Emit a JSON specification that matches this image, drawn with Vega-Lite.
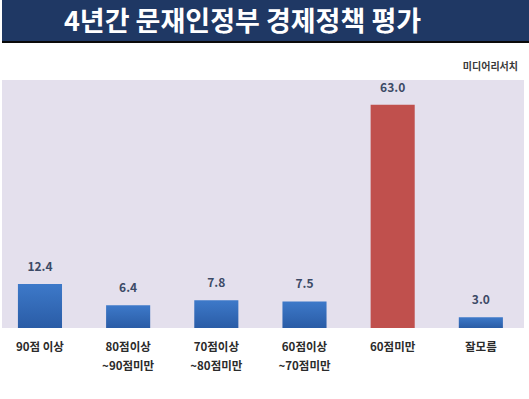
{
  "$schema": "https://vega.github.io/schema/vega-lite/v6.json",
  "background": "white",
  "padding": {"left": 2, "top": 0, "right": 0, "bottom": 0},
  "spacing": 0,
  "config": {"view": {"stroke": null}, "font": "Noto Sans CJK KR"},
  "vconcat": [
    {
      "width": 527,
      "height": 41,
      "view": {"fill": "#1f3864", "stroke": null},
      "data": {"values": [{"t": "4년간 문재인정부 경제정책 평가"}]},
      "mark": {"type": "text", "color": "white", "fontSize": 27, "fontWeight": "bold", "font": "Noto Sans CJK KR", "dx": -23, "baseline": "middle", "dy": 2},
      "encoding": {"text": {"field": "t"}}
    },
    {
      "width": 527,
      "height": 2,
      "view": {"fill": "#0a0a0a", "stroke": null},
      "data": {"values": []},
      "mark": "point",
      "encoding": {}
    },
    {
      "width": 527,
      "height": 19,
      "data": {"values": []},
      "mark": "point",
      "encoding": {}
    },
    {
      "width": 522,
      "height": 248,
      "view": {"fill": "#e4e0ed", "stroke": null},
      "title": {"text": "미디어리서치", "anchor": "end", "offset": 8, "fontSize": 10, "fontWeight": "bold", "color": "#3a3a3a", "dx": -6},
      "data": {"values": [
        {"label": "90점 이상", "value": 12.4, "group": "other"},
        {"label": "80점이상\n~90점미만", "value": 6.4, "group": "other"},
        {"label": "70점이상\n~80점미만", "value": 7.8, "group": "other"},
        {"label": "60점이상\n~70점미만", "value": 7.5, "group": "other"},
        {"label": "60점미만", "value": 63.0, "group": "main"},
        {"label": "잘모름", "value": 3.0, "group": "other"}
      ]},
      "encoding": {
        "x": {"field": "label", "type": "nominal",
              "sort": ["90점 이상", "80점이상\n~90점미만", "70점이상\n~80점미만", "60점이상\n~70점미만", "60점미만", "잘모름"],
              "scale": {"paddingInner": 0.5, "paddingOuter": 0.21, "align": 0.43},
              "axis": {"title": null, "labelAngle": 0, "domain": false, "ticks": false, "labelPadding": 13,
                       "labelFontSize": 11.5, "labelFontWeight": "bold", "labelColor": "#2b2b2b", "labelLineHeight": 19,
                       "labelExpr": "split(datum.value, '\\n')", "labelBaseline": "top"}},
        "y": {"field": "value", "type": "quantitative", "scale": {"domain": [0, 70]}, "axis": null}
      },
      "layer": [
        {
          "transform": [{"filter": "datum.group === 'other'"}],
          "mark": {"type": "bar", "color": {"gradient": "linear", "x1": 0, "y1": 0, "x2": 0, "y2": 1, "stops": [{"offset": 0, "color": "#3d79c9"}, {"offset": 1, "color": "#2a5ca6"}]}},
          "encoding": {}
        },
        {
          "transform": [{"filter": "datum.group === 'main'"}],
          "mark": {"type": "bar", "color": "#c0504d"},
          "encoding": {}
        },
        {
          "mark": {"type": "text", "baseline": "bottom", "dy": -10, "fontSize": 12, "fontWeight": "bold", "color": "#3c4a66"},
          "encoding": {"text": {"field": "value", "type": "quantitative", "format": ".1f"}}
        }
      ]
    }
  ]
}
